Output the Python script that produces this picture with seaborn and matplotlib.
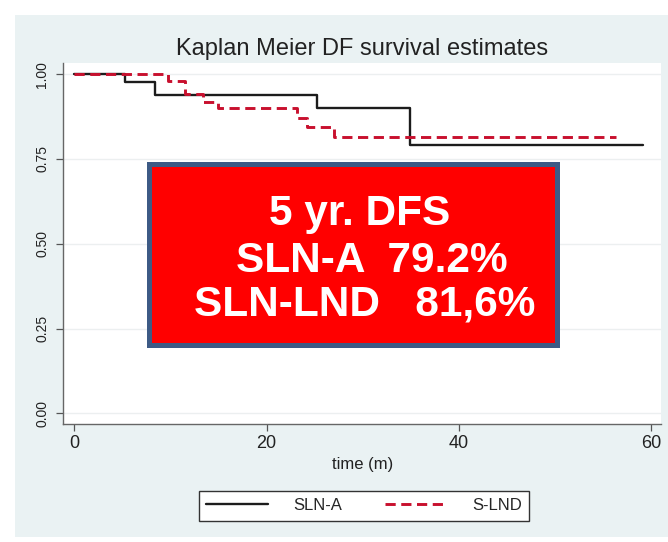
import matplotlib
matplotlib.use('Agg')
import matplotlib.pyplot as plt
import seaborn as sns
import pandas as pd
from matplotlib.patches import Rectangle

# ---- data ----
sln_a_time = [0, 5.3, 8.4, 25.2, 34.9, 59.1]
sln_a_surv = [1.0, 0.978, 0.940, 0.899, 0.792, 0.792]
s_lnd_time = [0, 9.7, 11.5, 13.4, 14.9, 23.2, 24.2, 27.0, 56.3]
s_lnd_surv = [1.0, 0.981, 0.941, 0.919, 0.899, 0.870, 0.845, 0.816, 0.816]
group_labels = ['SLN-A', 'S-LND']
x_ticks = [0, 20, 40, 60]
y_ticks = [0.0, 0.25, 0.5, 0.75, 1.0]
y_tick_labels = ['0.00', '0.25', '0.50', '0.75', '1.00']
title_text = 'Kaplan Meier DF survival estimates'
x_label = 'time (m)'
box_lines = ['5 yr. DFS', 'SLN-A  79.2%', 'SLN-LND   81,6%']

W, H = 668, 542
sns.set_style('white')
plt.rcParams['font.family'] = ['Liberation Sans', 'DejaVu Sans']

fig = plt.figure(figsize=(W / 100, H / 100), dpi=100)
fig.patch.set_facecolor('white')


def fx(px):
    return px / W


def fy(py):
    return 1 - py / H


# graph region background
fig.add_artist(Rectangle((fx(15), fy(537)), fx(668) - fx(15), fy(15) - fy(537),
                         transform=fig.transFigure, facecolor='#eaf2f3',
                         edgecolor='none', zorder=-5))

ax = fig.add_axes([fx(63.3), fy(424.3), fx(661) - fx(63.3), fy(63) - fy(424.3)])
ax.set_facecolor('white')

df_a = pd.DataFrame({'time': sln_a_time, 'surv': sln_a_surv})
df_b = pd.DataFrame({'time': s_lnd_time, 'surv': s_lnd_surv})
sns.lineplot(data=df_a, x='time', y='surv', ax=ax, estimator=None,
             drawstyle='steps-post', color='#1c1c1c', linewidth=1.7)
sns.lineplot(data=df_b, x='time', y='surv', ax=ax, estimator=None,
             drawstyle='steps-post', color='#c8102e', linewidth=2.1,
             linestyle=(0, (3.5, 1.9)))

ax.set_xlim(-1.14, 61.0)
ax.set_ylim(-0.0325, 1.033)
ax.set_xticks(x_ticks)
ax.set_yticks(y_ticks)
ax.set_yticklabels(y_tick_labels)
plt.setp(ax.get_yticklabels(), rotation=90, va='center')
ax.tick_params(axis='both', bottom=True, left=True, direction='out', length=5,
               width=0.9, color='#555555', labelcolor='#222222')
ax.tick_params(axis='x', labelsize=13, pad=3)
ax.tick_params(axis='y', labelsize=10, pad=5)

for s in ['top', 'right']:
    ax.spines[s].set_visible(False)
for s in ['left', 'bottom']:
    ax.spines[s].set_color('#666666')
    ax.spines[s].set_linewidth(1.0)

ax.yaxis.grid(True, color='#eceff0', linewidth=1.0)
ax.xaxis.grid(False)
ax.set_axisbelow(True)

ax.set_title(title_text, fontsize=17, color='#222222', pad=6)
ax.set_xlabel(x_label, fontsize=12, color='#222222', labelpad=3)
ax.set_ylabel('')

handles = ax.get_lines()[:2]
leg = fig.legend(handles, group_labels, loc='center',
                 bbox_to_anchor=(fx(364), fy(505.5)), ncol=2, frameon=True,
                 fancybox=False, edgecolor='#333333', framealpha=1,
                 handlelength=3.7, handletextpad=1.5, columnspacing=2.6,
                 fontsize=12, borderpad=0.45)
leg.get_frame().set_linewidth(1.0)

# annotation box
fig.add_artist(Rectangle((fx(149), fy(345)), fx(557) - fx(149), fy(164) - fy(345),
                         transform=fig.transFigure, facecolor='#ff0000',
                         edgecolor='#3d5a85', linewidth=3.6, zorder=10))
box_centers = [(360, 225), (371.5, 271.7), (365, 316)]
for line, (cx, by) in zip(box_lines, box_centers):
    fig.text(fx(cx), fy(by), line, ha='center', va='baseline', color='white',
             fontsize=30.5, fontweight='bold', zorder=11)

fig.savefig('out.png', dpi=100)
